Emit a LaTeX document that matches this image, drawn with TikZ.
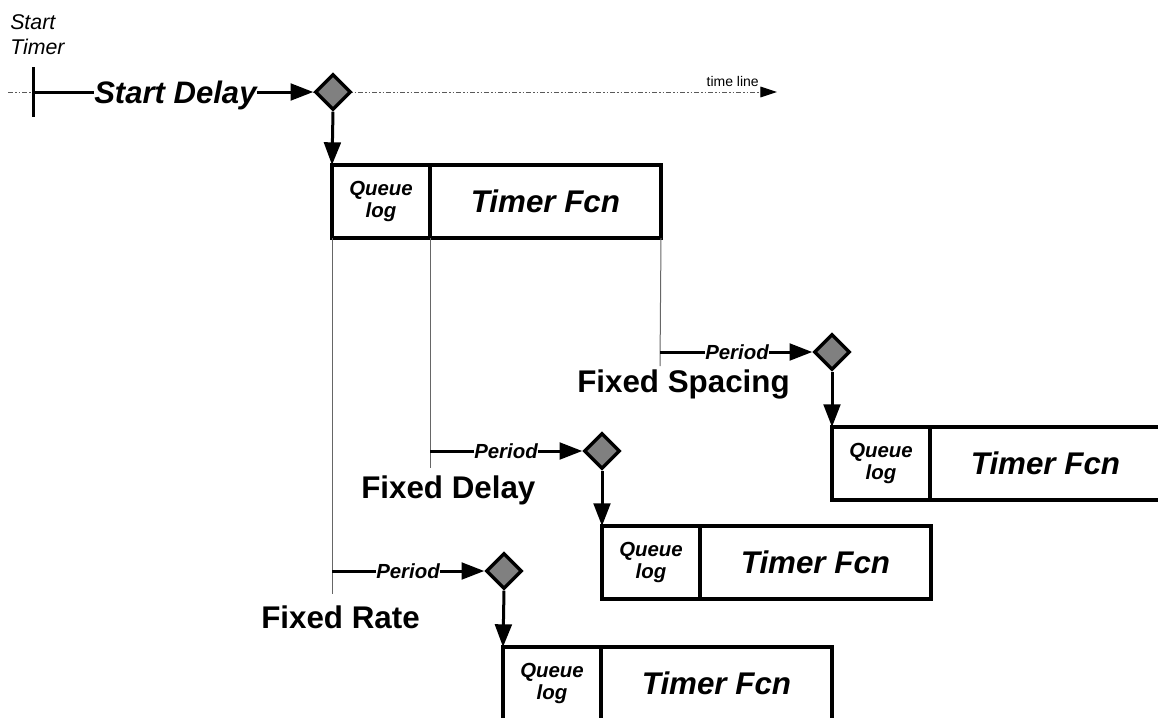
\documentclass[tikz,border=0pt]{standalone}
\usepackage{fontspec}
\setmainfont{Liberation Sans}
\usetikzlibrary{shapes.geometric,arrows.meta}
\begin{document}
\begin{tikzpicture}[x=0.75pt,y=-0.75pt,
  thickline/.style={line width=2.25pt},
  arr/.style={line width=2.25pt,-{Triangle[length=17pt,width=12.5pt]}},
  guide/.style={line width=0.75pt,draw=black!60},
  timeline/.style={line width=0.75pt,draw=black!65,dash pattern=on 4pt off 1.5pt on 1pt off 1.5pt on 1pt off 1.5pt},
  event/.style={diamond,aspect=1,draw,line width=2.6pt,fill=black!50,minimum size=27pt,inner sep=0pt},
  qbox/.style={draw,line width=2.6pt,minimum width=73.5pt,minimum height=54.75pt,inner sep=0pt,outer sep=0pt,anchor=north west,align=center,font=\fontsize{15.3}{17}\selectfont\bfseries\itshape},
  tbox/.style={draw,line width=2.6pt,minimum width=173.25pt,minimum height=54.75pt,inner sep=0pt,outer sep=0pt,anchor=north west,font=\fontsize{23.5}{27}\selectfont\bfseries\itshape},
  biglbl/.style={inner sep=0pt,anchor=base west,font=\fontsize{23.5}{27}\selectfont\bfseries},
  periodlbl/.style={inner sep=0pt,anchor=west,text height=10.9pt,text depth=0pt,font=\fontsize{15.3}{17}\selectfont\bfseries\itshape},
  delaylbl/.style={inner sep=0pt,anchor=west,text height=16.6pt,text depth=0pt,fill=white,font=\fontsize{23.3}{27}\selectfont\bfseries\itshape}
]
\useasboundingbox (0,0) rectangle (1158,718);

% time line
\coordinate (tl0) at (8,92);
\coordinate (tl1) at (777,92);
\draw[timeline,-{Triangle[length=12.5pt,width=8pt,color=black]}] (tl0) -- (tl1);
\node[anchor=base east,inner sep=0pt,font=\fontsize{10.5}{12}\selectfont] (tllbl) at (759,86) {time line};

% start timer
\node[anchor=north west,inner sep=0pt,align=left,font=\fontsize{16}{19}\selectfont\itshape] (stlbl) at (10,14) {Start\\Timer};
\coordinate (tickTop) at (33,67);
\coordinate (tickBot) at (33,117);
\coordinate (tick) at (33,92);
\draw[thickline] (tickTop) -- (tickBot);

% start delay
\node[delaylbl] (sd) at (94,92) {Start Delay};
\node[event] (d0) at (333,92) {};
\draw[thickline] (tick) -- (sd.west);
\draw[arr] (sd.east) -- (d0.west);

% first timer execution
\node[qbox] (q1) at (332,165) {Queue\\log};
\node[tbox] (t1) at (q1.north east) {Timer Fcn};
\draw[arr] (d0.south) -- (q1.north west);

% guide lines
\coordinate (gRate) at (332,594);
\coordinate (gDelay) at (430,468);
\coordinate (gSpace) at (660,366);
\draw[guide] (q1.south west) -- (gRate);
\draw[guide] (q1.south east) -- (gDelay);
\draw[guide] (t1.south east) -- (gSpace);

% Fixed Spacing
\node[periodlbl] (p1) at (705,352) {Period};
\node[event] (d1) at (832,352) {};
\draw[thickline] (gSpace |- p1) -- (p1.west);
\draw[arr] (p1.east) -- (d1.west);
\node[biglbl] (fs) at (577,392) {Fixed Spacing};
\node[qbox] (q3) at (832,427) {Queue\\log};
\node[tbox] (t3) at (q3.north east) {Timer Fcn};
\draw[arr] (d1.south) -- (q3.north west);

% Fixed Delay
\node[periodlbl] (p2) at (474,451) {Period};
\node[event] (d2) at (602,451) {};
\draw[thickline] (gDelay |- p2) -- (p2.west);
\draw[arr] (p2.east) -- (d2.west);
\node[biglbl] (fd) at (361,498) {Fixed Delay};
\node[qbox] (q2) at (602,526) {Queue\\log};
\node[tbox] (t2) at (q2.north east) {Timer Fcn};
\draw[arr] (d2.south) -- (q2.north west);

% Fixed Rate
\node[periodlbl] (p3) at (376,571) {Period};
\node[event] (d3) at (504,571) {};
\draw[thickline] (gRate |- p3) -- (p3.west);
\draw[arr] (p3.east) -- (d3.west);
\node[biglbl] (fr) at (261,628) {Fixed Rate};
\node[qbox] (q4) at (503,647) {Queue\\log};
\node[tbox] (t4) at (q4.north east) {Timer Fcn};
\draw[arr] (d3.south) -- (q4.north west);
\end{tikzpicture}
\end{document}
